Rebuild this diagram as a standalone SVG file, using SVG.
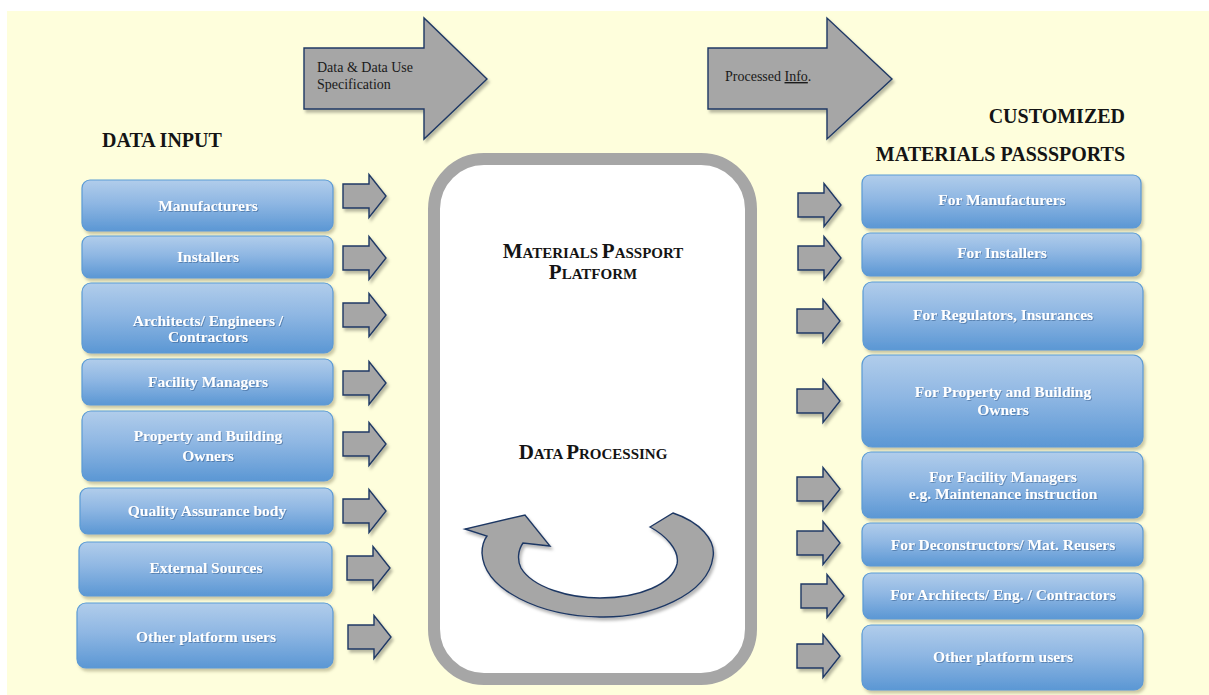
<svg xmlns="http://www.w3.org/2000/svg" width="1209" height="695" viewBox="0 0 1209 695">
  <defs>
    <style>
      .box { fill: url(#blueGrad); stroke: #5b9bd5; stroke-width: 1.2; filter: url(#boxShadow); }
      .lbl { font-family: "Liberation Serif", "Times New Roman", serif; font-weight: bold; font-size: 15.5px; fill: #ffffff; text-anchor: middle; filter: url(#txtShadow); }
      .title { font-family: "Liberation Serif", "Times New Roman", serif; font-weight: bold; font-size: 20px; fill: #141414; }
      .sc { font-family: "Liberation Serif", "Times New Roman", serif; font-weight: bold; fill: #141414; text-anchor: middle; }
      .sc .big { font-size: 21px; }
      .sc .small { font-size: 15px; }
      .gray-arrow { fill: #a6a6a6; stroke: #1f3864; stroke-width: 1.4; stroke-linejoin: miter; filter: url(#arrowShadow); }
      .note { font-family: "Liberation Serif", "Times New Roman", serif; font-size: 14px; fill: #1a1a1a; }
    </style>
    <linearGradient id="blueGrad" x1="0" y1="0" x2="0" y2="1">
      <stop offset="0" stop-color="#b1cdeb"/>
      <stop offset="0.45" stop-color="#8fb7e3"/>
      <stop offset="1" stop-color="#5b97d4"/>
    </linearGradient>
    <filter id="boxShadow" x="-5%" y="-10%" width="115%" height="140%">
      <feGaussianBlur in="SourceAlpha" stdDeviation="1.6"/>
      <feOffset dx="2" dy="3" result="o"/>
      <feFlood flood-color="#8a8560" flood-opacity="0.45"/>
      <feComposite in2="o" operator="in"/>
      <feMerge><feMergeNode/><feMergeNode in="SourceGraphic"/></feMerge>
    </filter>
    <filter id="arrowShadow" x="-15%" y="-15%" width="140%" height="140%">
      <feGaussianBlur in="SourceAlpha" stdDeviation="1.8"/>
      <feOffset dx="2" dy="3" result="o"/>
      <feFlood flood-color="#000000" flood-opacity="0.28"/>
      <feComposite in2="o" operator="in"/>
      <feMerge><feMergeNode/><feMergeNode in="SourceGraphic"/></feMerge>
    </filter>
    <filter id="txtShadow" x="-5%" y="-30%" width="110%" height="160%">
      <feGaussianBlur in="SourceAlpha" stdDeviation="0.7"/>
      <feOffset dx="0.8" dy="0.8" result="o"/>
      <feFlood flood-color="#1b3f6e" flood-opacity="0.4"/>
      <feComposite in2="o" operator="in"/>
      <feMerge><feMergeNode/><feMergeNode in="SourceGraphic"/></feMerge>
    </filter>
    <!-- small block arrow, origin at the left end of the shaft, vertically centred -->
    <path id="smallArrow" d="M0,-12 H26 V-21.5 L43,0 L26,21.5 V12 H0 Z"/>
  </defs>

  <!-- page -->
  <rect x="0" y="0" width="1209" height="695" fill="#ffffff"/>
  <rect x="7" y="11" width="1202" height="684" fill="#fefedc"/>

  <!-- headings -->
  <text class="title" x="102" y="147">DATA INPUT</text>
  <text class="title" x="1125" y="123" text-anchor="end">CUSTOMIZED</text>
  <text class="title" x="1125" y="161" text-anchor="end">MATERIALS PASSSPORTS</text>

  <!-- top flow arrows -->
  <g id="flow-in">
    <path class="gray-arrow" d="M304,48 H424 V18 L487,79 L424,139 V109 H304 Z"/>
    <text class="note" x="317" y="72">Data &amp; Data Use</text>
    <text class="note" x="317" y="89">Specification</text>
  </g>
  <g id="flow-out">
    <path class="gray-arrow" d="M708,48 H827 V18 L892,79 L827,139 V109 H708 Z"/>
    <text class="note" x="725" y="81">Processed <tspan text-decoration="underline">Info</tspan>.</text>
  </g>

  <!-- central platform -->
  <g id="platform">
    <rect x="434" y="159" width="317" height="520" rx="50" ry="50" fill="#ffffff" stroke="#a6a6a6" stroke-width="12"/>
    <text class="sc" x="593" y="258"><tspan class="big">M</tspan><tspan class="small">ATERIALS </tspan><tspan class="big">P</tspan><tspan class="small">ASSPORT</tspan></text>
    <text class="sc" x="593" y="279"><tspan class="big">P</tspan><tspan class="small">LATFORM</tspan></text>
    <text class="sc" x="593" y="459"><tspan class="big">D</tspan><tspan class="small">ATA </tspan><tspan class="big">P</tspan><tspan class="small">ROCESSING</tspan></text>
    <path class="gray-arrow" d="M650,527 L673,513 C700,522 716,540 713,557 C708,595 650,618 600,617 C540,616 484,590 482,553 C482,546 484,540 487,536 L465,529 L525,515 L550,546 L523,543 C518,550 517,560 521,568 C533,588 570,598 600,598 C640,598 672,584 677,564 C680,550 665,535 650,527 Z"/>
  </g>

  <!-- input sources -->
  <g id="in-manufacturers">
    <rect class="box" x="82" y="180" width="251" height="51" rx="8"/>
    <text class="lbl" x="208" y="211">Manufacturers</text>
  </g>
  <g id="in-installers">
    <rect class="box" x="82" y="236" width="251" height="42" rx="8"/>
    <text class="lbl" x="208" y="262">Installers</text>
  </g>
  <g id="in-architects">
    <rect class="box" x="82" y="283" width="251" height="70" rx="9"/>
    <text class="lbl" x="208" y="326">Architects/ Engineers /</text>
    <text class="lbl" x="208" y="342">Contractors</text>
  </g>
  <g id="in-facility">
    <rect class="box" x="82" y="359" width="251" height="46" rx="8"/>
    <text class="lbl" x="208" y="387">Facility Managers</text>
  </g>
  <g id="in-owners">
    <rect class="box" x="82" y="411" width="251" height="70" rx="9"/>
    <text class="lbl" x="208" y="441">Property and Building</text>
    <text class="lbl" x="208" y="461">Owners</text>
  </g>
  <g id="in-quality">
    <rect class="box" x="80" y="488" width="253" height="46" rx="8"/>
    <text class="lbl" x="207" y="516">Quality Assurance body</text>
  </g>
  <g id="in-external">
    <rect class="box" x="79" y="542" width="253" height="54" rx="8"/>
    <text class="lbl" x="206" y="573">External Sources</text>
  </g>
  <g id="in-other">
    <rect class="box" x="77" y="603" width="256" height="65" rx="9"/>
    <text class="lbl" x="206" y="642">Other platform users</text>
  </g>

  <!-- customized passports -->
  <g id="out-manufacturers">
    <rect class="box" x="862" y="175" width="279" height="53" rx="8"/>
    <text class="lbl" x="1002" y="205">For Manufacturers</text>
  </g>
  <g id="out-installers">
    <rect class="box" x="862" y="233" width="279" height="43" rx="8"/>
    <text class="lbl" x="1002" y="258">For Installers</text>
  </g>
  <g id="out-regulators">
    <rect class="box" x="863" y="282" width="280" height="68" rx="9"/>
    <text class="lbl" x="1003" y="320">For Regulators, Insurances</text>
  </g>
  <g id="out-owners">
    <rect class="box" x="862" y="355" width="281" height="92" rx="10"/>
    <text class="lbl" x="1003" y="397">For Property and Building</text>
    <text class="lbl" x="1003" y="415">Owners</text>
  </g>
  <g id="out-facility">
    <rect class="box" x="862" y="452" width="281" height="66" rx="9"/>
    <text class="lbl" x="1003" y="482">For Facility Managers</text>
    <text class="lbl" x="1003" y="499">e.g. Maintenance instruction</text>
  </g>
  <g id="out-deconstructors">
    <rect class="box" x="862" y="523" width="281" height="43" rx="8"/>
    <text class="lbl" x="1003" y="550">For Deconstructors/ Mat. Reusers</text>
  </g>
  <g id="out-architects">
    <rect class="box" x="863" y="573" width="280" height="46" rx="8"/>
    <text class="lbl" x="1003" y="600">For Architects/ Eng. / Contractors</text>
  </g>
  <g id="out-other">
    <rect class="box" x="862" y="625" width="281" height="65" rx="9"/>
    <text class="lbl" x="1003" y="662">Other platform users</text>
  </g>

  <!-- connectors: block arrows into and out of the platform -->
  <g id="connectors" class="gray-arrow">
    <use href="#smallArrow" transform="translate(343,196)"/>
    <use href="#smallArrow" transform="translate(343,258)"/>
    <use href="#smallArrow" transform="translate(343,315)"/>
    <use href="#smallArrow" transform="translate(343,383)"/>
    <use href="#smallArrow" transform="translate(343,444)"/>
    <use href="#smallArrow" transform="translate(343,511)"/>
    <use href="#smallArrow" transform="translate(347,568)"/>
    <use href="#smallArrow" transform="translate(348,637)"/>

    <use href="#smallArrow" transform="translate(798,205)"/>
    <use href="#smallArrow" transform="translate(798,258)"/>
    <use href="#smallArrow" transform="translate(797,321)"/>
    <use href="#smallArrow" transform="translate(797,401)"/>
    <use href="#smallArrow" transform="translate(797,489)"/>
    <use href="#smallArrow" transform="translate(797,543)"/>
    <use href="#smallArrow" transform="translate(801,596)"/>
    <use href="#smallArrow" transform="translate(797,656)"/>
  </g>
</svg>
